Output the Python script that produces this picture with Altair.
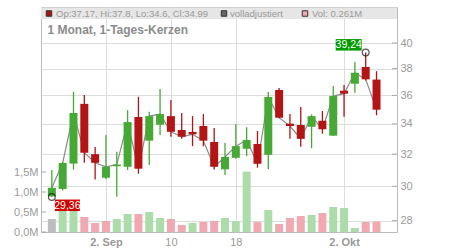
import altair as alt
import pandas as pd
import numpy as np

# ---- data (31 daily candles, 26 Aug - 7 Oct) ----
opens = [29.40, 29.84, 31.40, 35.40, 32.00, 30.52, 31.23, 31.20, 34.48, 32.88,
         33.95, 34.54, 33.59, 33.46, 33.86, 32.79, 31.04, 31.77, 32.35, 32.66,
         31.96, 36.40, 34.02, 33.93, 33.81, 34.22, 33.21, 36.35, 36.86, 38.12, 37.17]
highs = [31.00, 31.50, 36.27, 36.03, 32.46, 33.25, 32.16, 34.96, 35.91, 34.85,
         36.47, 35.67, 34.76, 34.54, 34.68, 33.72, 32.72, 34.00, 33.77, 33.52,
         36.25, 36.55, 34.68, 35.18, 34.66, 34.90, 36.69, 36.76, 38.51, 39.24, 37.80]
lows = [29.36, 29.75, 31.02, 31.45, 30.42, 30.45, 29.38, 31.00, 30.77, 31.31,
        33.25, 33.14, 33.00, 32.52, 32.52, 31.03, 30.69, 31.70, 31.88, 31.14,
        31.04, 34.40, 33.00, 32.48, 32.38, 33.34, 33.21, 34.50, 36.20, 37.10, 34.60]
closes = [29.91, 31.44, 34.76, 32.09, 31.45, 31.20, 31.34, 34.13, 31.08, 34.54,
          34.68, 33.47, 33.14, 33.30, 32.88, 31.20, 31.82, 32.52, 32.92, 31.39,
          35.89, 34.43, 33.86, 33.00, 34.54, 33.64, 35.96, 36.13, 37.68, 37.19, 34.99]
volumes_m = [0.325, 0.70, 0.65, 0.375, 0.225, 0.275, 0.325, 0.45, 0.45, 0.50,
             0.35, 0.325, 0.175, 0.225, 0.25, 0.275, 0.35, 0.275, 1.51, 0.25,
             0.55, 0.20, 0.35, 0.40, 0.425, 0.475, 0.625, 0.60, 0.10, 0.25, 0.261]

tick_idx = [5, 11, 17, 27]
tick_labels = ["2. Sep", "10", "18", "2. Okt"]
bold_ticks = [5, 27]
price_ticks = [28, 30, 32, 34, 36, 38, 40]
vol_ticks = [0, 500000, 1000000, 1500000]
title_text = "1 Monat, 1-Tages-Kerzen"
legend_texts = ["Op:37.17, Hi:37.8, Lo:34.6, Cl:34.99", "volladjustiert", "Vol: 0.261M"]

# ---- table ----
n = len(opens)
df = pd.DataFrame({"i": list(range(n)), "open": opens, "high": highs, "low": lows,
                   "close": closes, "vol": [v * 1e6 for v in volumes_m]})
prev = df["close"].shift(1)
df["vdir"] = np.where(prev.isna(), "none", np.where(df["close"] >= prev, "up", "down"))
hi_idx = int(df["high"].idxmax())
lo_idx = int(df["low"].idxmin())
one = pd.DataFrame({"k": [0]})

FONT = "Liberation Sans"
GREEN = "#46a935"
RED = "#b31414"
GRID = "#dddddd"
LAB = "#9a9a9a"

label_expr = " : ".join(f"datum.value == {v} ? '{t}'" for v, t in zip(tick_idx, tick_labels)) + " : ''"
bold_test = " || ".join(f"datum.value == {v}" for v in bold_ticks)

x_scale = alt.Scale(domain=[-0.54, 31.43], nice=False, zero=False)
x_axis = alt.Axis(values=tick_idx, labelExpr=label_expr, grid=True, gridColor=GRID,
                  tickSize=0, domain=False, labelColor=LAB, labelFontSize=11, labelFont=FONT,
                  labelPadding=4, labelOverlap=False, title=None,
                  labelFontWeight={"condition": {"test": bold_test, "value": "bold"}, "value": "normal"})
X = alt.X("i:Q", scale=x_scale, axis=x_axis)

p_scale = alt.Scale(type="log", domain=[27.37, 43.0], nice=False, zero=False)
p_axis = alt.Axis(orient="right", values=price_ticks, format="d", grid=True, gridColor=GRID,
                  tickSize=0, domain=False, labelColor=LAB, labelFontSize=11, labelFont=FONT,
                  labelPadding=3, title=None)


def PY(field):
    return alt.Y(f"{field}:Q", scale=p_scale, axis=p_axis)


v_scale = alt.Scale(domain=[0, 5.625e6], nice=False, zero=True)
v_axis = alt.Axis(orient="left", values=vol_ticks, grid=False, tickSize=0, domain=False,
                  labelColor=LAB, labelFontSize=11, labelFont=FONT, labelPadding=3, title=None,
                  labelExpr="replace(format(datum.value / 1000000, '.1f'), '.', ',') + 'M'")

base = alt.Chart(df)
cond = alt.condition("datum.close >= datum.open", alt.value(GREEN), alt.value(RED))

# ---- volume layer ----
vbars = base.mark_bar(width=8).encode(
    x=X,
    y=alt.Y("vol:Q", scale=v_scale, axis=v_axis),
    color=alt.Color("vdir:N", scale=alt.Scale(domain=["up", "down", "none"],
                                              range=["#acdcaa", "#f0a9b1", "#bdbdbd"]), legend=None),
)
vticks = alt.Chart(pd.DataFrame({"v": vol_ticks})).mark_rule(color="#aaaaaa").encode(
    y=alt.Y("v:Q", scale=v_scale, axis=v_axis), x=alt.value(0), x2=alt.value(5))
vol_layer = alt.layer(vbars, vticks)

# ---- price layer ----
line = base.mark_line(color="#8a8a8a", strokeWidth=1.2).encode(x=X, y=PY("close"))
wicks = base.mark_rule(strokeWidth=1.3).encode(x=X, y=PY("low"), y2="high:Q", color=cond)
bodies = base.mark_bar(width=8).encode(x=X, y=PY("open"), y2="close:Q", color=cond)

hi = base.transform_filter(f"datum.i == {hi_idx}").transform_calculate(
    lab="replace(format(datum.high, '.2f'), '.', ',')")
lo = base.transform_filter(f"datum.i == {lo_idx}").transform_calculate(
    lab="replace(format(datum.low, '.2f'), '.', ',')")

hi_pt = hi.mark_point(shape="circle", size=45, filled=False, color="#111111", strokeWidth=1.2).encode(x=X, y=PY("high"))
lo_pt = lo.mark_point(shape="circle", size=45, filled=False, color="#111111", strokeWidth=1.2).encode(x=X, y=PY("low"))
hi_box = hi.mark_rect(color="#009a00", xOffset=-30, x2Offset=-4, yOffset=-13.5, y2Offset=-2).encode(
    x=X, x2="i:Q", y=PY("high"), y2="high:Q")
lo_box = lo.mark_rect(color="#d00000", xOffset=3, x2Offset=28, yOffset=2.5, y2Offset=14).encode(
    x=X, x2="i:Q", y=PY("low"), y2="low:Q")
hi_txt = hi.mark_text(color="white", fontSize=10.5, font=FONT, dx=-17, dy=-7.5, baseline="middle").encode(
    x=X, y=PY("high"), text="lab:N")
lo_txt = lo.mark_text(color="white", fontSize=10.5, font=FONT, dx=15.5, dy=8.5, baseline="middle").encode(
    x=X, y=PY("low"), text="lab:N")

p_ticks = alt.Chart(pd.DataFrame({"p": price_ticks})).mark_rule(color="#aaaaaa").encode(
    y=PY("p"), x=alt.value(351), x2=alt.value(356))

deco = alt.Chart(one)
band = deco.mark_rect(color="#e6e6e6").encode(
    x=alt.value(0), x2=alt.value(356), y=alt.value(0.5), y2=alt.value(12))
title = deco.mark_text(align="left", baseline="alphabetic", fontSize=12, fontWeight="bold",
                       color="#8c8c8c", font=FONT).encode(
    x=alt.value(6.5), y=alt.value(27), text=alt.value(title_text))
sq_colors = ["#a81212", "#666666", "#f2a8b0"]
sq_x = [8, 183, 264]
tx_x = [15, 189, 271]
legend_layers = []
for c, sx, tx, t in zip(sq_colors, sq_x, tx_x, legend_texts):
    legend_layers.append(deco.mark_square(size=30, filled=True, fill=c, stroke="#333333", strokeWidth=1,
                                          opacity=1).encode(x=alt.value(sx), y=alt.value(6.5)))
    legend_layers.append(deco.mark_text(align="left", baseline="middle", fontSize=9.5, color=LAB,
                                        font=FONT).encode(x=alt.value(tx), y=alt.value(6.5), text=alt.value(t)))

price_layer = alt.layer(line, wicks, bodies, p_ticks, hi_box, lo_box, hi_txt, lo_txt, hi_pt, lo_pt,
                        band, title, *legend_layers)

chart = alt.layer(vol_layer, price_layer).resolve_scale(y="independent").properties(
    width=356, height=225,
    padding={"left": 41, "top": 7, "right": 53, "bottom": 18},
    autosize=alt.AutoSizeParams(type="none"),
    background="white",
).configure_view(stroke="#bbbbbb")

chart.save("out.html", embed_options={"renderer": "svg", "actions": False})
